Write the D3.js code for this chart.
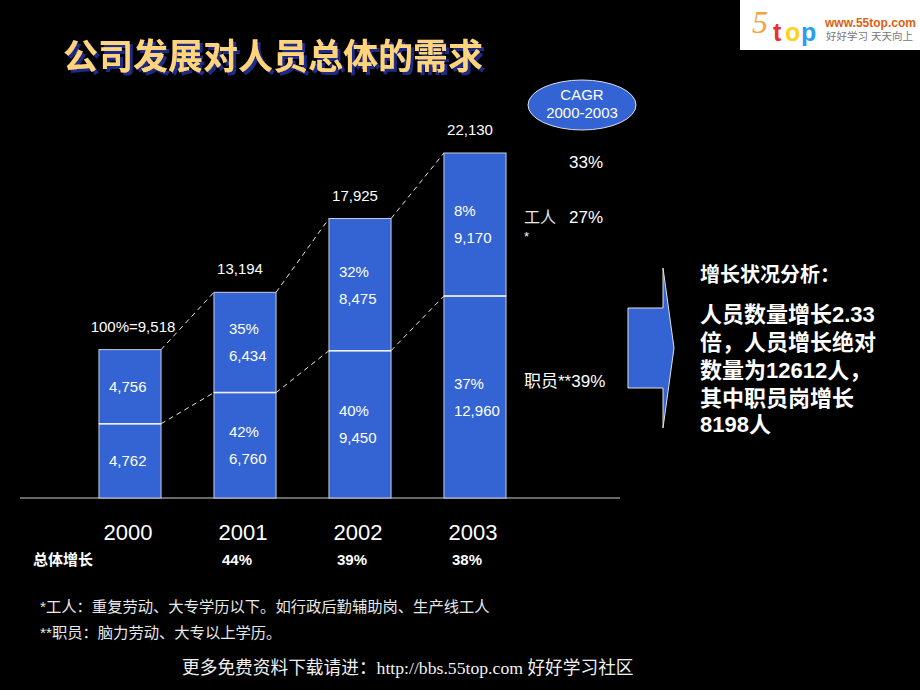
<!DOCTYPE html>
<html><head><meta charset="utf-8">
<script src="https://cdn.jsdelivr.net/npm/d3@7/dist/d3.min.js"></script>
<style>
html,body{margin:0;padding:0;background:#000;}
svg{display:block;}
</style></head>
<body>
<script>
// ---- data ----
const years = ["2000", "2001", "2002", "2003"];
const staff = [4762, 6760, 9450, 12960];      // 职员 (bottom segment)
const workers = [4756, 6434, 8475, 9170];     // 工人 (top segment)
const totals = [9518, 13194, 17925, 22130];
const totalLabels = ["100%=9,518", "13,194", "17,925", "22,130"];
const staffPct = ["", "42%", "40%", "37%"];
const workerPct = ["", "35%", "32%", "8%"];
const growthLabels = ["", "44%", "39%", "38%"];
const cagrValues = ["33%", "27%", "39%"];
const analysisLines = ["人员数量增长2.33", "倍，人员增长绝对", "数量为12612人，", "其中职员岗增长", "8198人"];

const W = 920, H = 690;
const sans = "'Liberation Sans', Arial, 'Noto Sans CJK SC', sans-serif";
const cjk = "'Liberation Sans', 'Noto Sans CJK SC', sans-serif";
const barFill = "#3464d4";

const svg = d3.select("body").append("svg").attr("width", W).attr("height", H);
svg.append("rect").attr("width", W).attr("height", H).attr("fill", "#000");

const defs = svg.append("defs");
const f = defs.append("filter").attr("id", "shadow").attr("x", "-5%").attr("y", "-20%").attr("width", "115%").attr("height", "150%");
f.append("feDropShadow").attr("dx", 3).attr("dy", 3).attr("stdDeviation", 0.4)
  .attr("flood-color", "#1b2a88").attr("flood-opacity", 1);

const x = d3.scaleBand().domain(years).range([72.5, 532.5]).paddingInner(0.46).paddingOuter(0.23);
const y = d3.scaleLinear().domain([0, 22130]).range([498, 153]);

// title
svg.append("text").attr("x", 63).attr("y", 69).attr("fill", "#ffd47a").attr("filter", "url(#shadow)")
  .attr("font-family", cjk).attr("font-size", 35).attr("font-weight", "bold").text("公司发展对人员总体的需求");

// logo
const logo = svg.append("g");
logo.append("rect").attr("x", 740).attr("y", 0).attr("width", 180).attr("height", 50).attr("fill", "#fff");
logo.append("text").attr("x", 752).attr("y", 33).attr("fill", "#f7a23a").attr("font-family", "'Liberation Serif', serif")
  .attr("font-style", "italic").attr("font-size", 32).text("5");
[["t", "#e8302c", 773], ["o", "#ffd21a", 785], ["p", "#2a9df4", 801]].forEach(([c, col, xx]) => {
  logo.append("text").attr("x", xx).attr("y", 41).attr("fill", col).attr("font-family", sans)
    .attr("font-weight", "bold").attr("font-size", 25).text(c);
});
logo.append("text").attr("x", 825).attr("y", 27).attr("fill", "#e06010").attr("font-family", sans)
  .attr("font-weight", "bold").attr("font-size", 12).text("www.55top.com");
logo.append("text").attr("x", 826).attr("y", 40).attr("fill", "#777").attr("font-family", cjk)
  .attr("font-size", 10.5).text("好好学习  天天向上");

// baseline
svg.append("line").attr("x1", 20).attr("x2", 620).attr("y1", y(0)).attr("y2", y(0))
  .attr("stroke", "#d0d0d0").attr("stroke-width", 1.2);

// dashed connectors
const conn = svg.append("g").attr("stroke", "#e8e8e8").attr("stroke-width", 1).attr("stroke-dasharray", "5,4").attr("fill", "none");
for (let i = 0; i < years.length - 1; i++) {
  conn.append("line").attr("x1", x(years[i]) + x.bandwidth()).attr("y1", y(totals[i]))
    .attr("x2", x(years[i + 1])).attr("y2", y(totals[i + 1]));
  conn.append("line").attr("x1", x(years[i]) + x.bandwidth()).attr("y1", y(staff[i]))
    .attr("x2", x(years[i + 1])).attr("y2", y(staff[i + 1]));
}

// bars
const bars = svg.append("g");
years.forEach((yr, i) => {
  const bx = x(yr), bw = x.bandwidth();
  bars.append("rect").attr("x", bx).attr("y", y(staff[i])).attr("width", bw).attr("height", y(0) - y(staff[i]))
    .attr("fill", barFill).attr("stroke", "#c8cce0").attr("stroke-width", 1);
  bars.append("rect").attr("x", bx).attr("y", y(staff[i] + workers[i])).attr("width", bw)
    .attr("height", y(staff[i]) - y(staff[i] + workers[i]))
    .attr("fill", barFill).attr("stroke", "#c8cce0").attr("stroke-width", 1);
  bars.append("line").attr("x1", bx).attr("x2", bx + bw).attr("y1", y(staff[i])).attr("y2", y(staff[i]))
    .attr("stroke", "#f0f0f0").attr("stroke-width", 1.5);
});

// inner labels
const fmt = d3.format(",");
const inner = svg.append("g").attr("fill", "#fff").attr("font-family", sans).attr("font-size", 15);
years.forEach((yr, i) => {
  const lx = x(yr) + (i === 1 ? 15 : 10);
  const topMid = (y(staff[i]) + y(staff[i] + workers[i])) / 2;
  const botMid = (y(0) + y(staff[i])) / 2;
  if (workerPct[i]) {
    inner.append("text").attr("x", lx).attr("y", topMid - 13 + 5).text(workerPct[i]);
    inner.append("text").attr("x", lx).attr("y", topMid + 14 + 5).text(fmt(workers[i]));
  } else {
    inner.append("text").attr("x", lx).attr("y", topMid + 5).text(fmt(workers[i]));
  }
  if (staffPct[i]) {
    inner.append("text").attr("x", lx).attr("y", botMid - 13 + 5).text(staffPct[i]);
    inner.append("text").attr("x", lx).attr("y", botMid + 14 + 5).text(fmt(staff[i]));
  } else {
    inner.append("text").attr("x", lx).attr("y", botMid + 5).text(fmt(staff[i]));
  }
});

// total labels
svg.append("g").selectAll("text").data(years).join("text")
  .attr("x", (d, i) => x(d) + x.bandwidth() / 2 + (i === 0 ? 3 : -5))
  .attr("y", (d, i) => y(totals[i]) - 18)
  .attr("text-anchor", "middle").attr("fill", "#fff").attr("font-family", sans).attr("font-size", 15)
  .text((d, i) => totalLabels[i]);

// year labels
svg.append("g").selectAll("text").data(years).join("text")
  .attr("x", d => x(d) + x.bandwidth() / 2 - 2).attr("y", 540)
  .attr("text-anchor", "middle").attr("fill", "#fff").attr("font-family", sans).attr("font-size", 22)
  .text(d => d);

// growth row
svg.append("text").attr("x", 33).attr("y", 565).attr("fill", "#fff").attr("font-family", cjk)
  .attr("font-size", 15).attr("font-weight", "bold").text("总体增长");
svg.append("g").selectAll("text").data(years).join("text")
  .attr("x", d => x(d) + x.bandwidth() / 2 - 8).attr("y", 565)
  .attr("text-anchor", "middle").attr("fill", "#fff").attr("font-family", sans).attr("font-size", 15)
  .attr("font-weight", "bold").text((d, i) => growthLabels[i]);

// CAGR ellipse
svg.append("ellipse").attr("cx", 582).attr("cy", 105).attr("rx", 54).attr("ry", 25)
  .attr("fill", barFill).attr("stroke", "#dde").attr("stroke-width", 1);
svg.append("text").attr("x", 582).attr("y", 100).attr("text-anchor", "middle").attr("fill", "#fff")
  .attr("font-family", sans).attr("font-size", 15).text("CAGR");
svg.append("text").attr("x", 582).attr("y", 118).attr("text-anchor", "middle").attr("fill", "#fff")
  .attr("font-family", sans).attr("font-size", 15).text("2000-2003");

const cg = svg.append("g").attr("fill", "#fff").attr("font-family", cjk).attr("font-size", 17);
const y03 = y(totals[3]);
cg.append("text").attr("x", 569).attr("y", y03 + 15).text(cagrValues[0]);
cg.append("text").attr("x", 524).attr("y", y03 + 70).attr("font-size", 16).attr("fill", "#e8e8e8").text("工人");
cg.append("text").attr("x", 569).attr("y", y03 + 70).text(cagrValues[1]);
cg.append("text").attr("x", 524).attr("y", y03 + 88).attr("font-size", 13).text("*");
cg.append("text").attr("x", 524).attr("y", y(staff[3]) + 91).text("职员**" + cagrValues[2]);

// arrow
svg.append("polygon")
  .attr("points", "628,308 663,308 663,268 674,348 663,428 663,388 628,388")
  .attr("fill", barFill).attr("stroke", "#e0e0e0").attr("stroke-width", 1);

// analysis text
const an = svg.append("g").attr("fill", "#fff").attr("font-family", cjk).attr("font-weight", "bold");
an.append("text").attr("x", 700).attr("y", 282).attr("font-size", 20).text("增长状况分析：");
const lineY = [322, 350, 378, 406, 432];
analysisLines.forEach((t, i) => {
  an.append("text").attr("x", 700).attr("y", lineY[i]).attr("font-size", 22).text(t);
});

// footnotes
const fn = svg.append("g").attr("fill", "#e8e8e8").attr("font-family", cjk).attr("font-size", 15.3);
fn.append("text").attr("x", 40).attr("y", 612).text("*工人：重复劳动、大专学历以下。如行政后勤辅助岗、生产线工人");
fn.append("text").attr("x", 40).attr("y", 638).text("**职员：脑力劳动、大专以上学历。");

// bottom link
svg.append("text").attr("x", 182).attr("y", 674).attr("fill", "#f0f0f0")
  .attr("font-family", "'Liberation Serif', 'Noto Sans CJK SC', serif").attr("font-size", 17.7)
  .text("更多免费资料下载请进：http://bbs.55top.com 好好学习社区");
</script>
</body></html>
